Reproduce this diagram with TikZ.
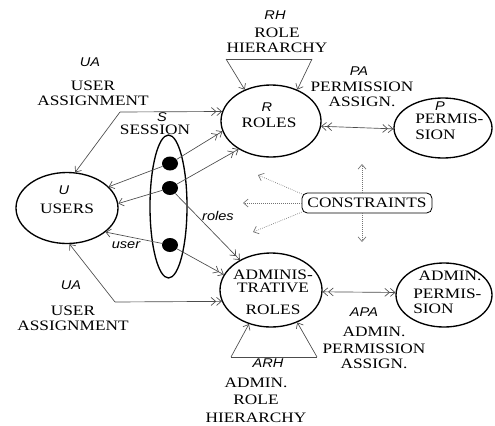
\documentclass[tikz,border=0pt]{standalone}
\usepackage{fontspec}
\setmainfont{Liberation Serif}[FakeStretch=1.2]
\setsansfont{Liberation Sans}[FakeStretch=1.15]
\usetikzlibrary{shapes.geometric,arrows.meta}

\tikzset{
  ring/.style={draw, ellipse, line width=1pt, inner sep=0pt},
  blob/.style={fill=black, ellipse, inner sep=0pt, minimum width=12pt, minimum height=10.5pt},
  txt/.style={inner sep=0pt, align=center, font=\fontsize{10.8}{11.25}\selectfont},
  ital/.style={inner sep=0pt, font=\fontsize{9.5}{11}\sffamily\itshape},
  rel/.style={draw=black!70, line width=0.5pt},
  dotrel/.style={draw=black!55, line width=0.5pt, densely dotted},
  >={Straight Barb[length=3.5pt,width=6pt]}
}

\begin{document}
\begin{tikzpicture}[x=0.75pt,y=0.75pt,yscale=-1,xscale=1]
        \useasboundingbox (0,0) rectangle (495,425);

        % the ellipses
        \draw (67,208) node (users) [ring, minimum width=76.5pt, minimum height=53.25pt] {};
        \draw (271,121) node (roles) [ring, minimum width=75pt, minimum height=54pt] {};
        \draw (443,128) node (perm) [ring, minimum width=73.5pt, minimum height=45pt] {};
        \draw (271,290) node (aroles) [ring, minimum width=76.5pt, minimum height=55.5pt] {};
        \draw (444,295) node (aperm) [ring, minimum width=72pt, minimum height=48pt] {};
        \draw (168.5,206.5) node (sess) [ring, minimum width=27.75pt, minimum height=107.25pt] {};
        \draw (170,163.5) node (d1) [blob] {};
        \draw (170,188) node (d2) [blob] {};
        \draw (170,245) node (d3) [blob] {};
        \draw (367,203) node (cons) [draw, rounded corners=4pt, line width=0.6pt, minimum width=97.5pt, minimum height=15pt, txt] {CONSTRAINTS};

        % free ends
        \coordinate (uaTop) at (120,112);
        \coordinate (uaBot) at (115,302);
        \coordinate (rhL) at (226,59);
        \coordinate (rhR) at (312,59);
        \coordinate (arhL) at (231,357);
        \coordinate (arhR) at (317,357);
        \coordinate (cR) at (258,175);
        \coordinate (cRl) at (243,203);
        \coordinate (cAr) at (253,232);
        \coordinate (cUp) at (362,164);
        \coordinate (cDn) at (362,242);

        % relations
        \draw [rel,->>] (uaTop) -- (roles.169);
        \draw [rel,->] (uaTop) -- (users.77);
        \draw [rel] (rhL) -- (rhR);
        \draw [rel,->] (rhL) -- (roles.130);
        \draw [rel,->] (rhR) -- (roles.50);
        \draw [rel,<<->>] (roles.-6) -- (perm.181);
        \draw [rel,->] (d1) -- (users.27);
        \draw [rel,->>] (d1) -- (roles.192);
        \draw [rel,->] (d2) -- (users.5);
        \draw [rel,->>] (d2) -- (roles.221);
        \draw [rel,->>] (d2) -- (aroles.136);
        \draw [rel,->>] (d3) -- (aroles.162);
        \draw [rel,->] (d3) -- (users.-32);
        \draw [rel,->] (uaBot) -- (users.-86);
        \draw [rel,->>] (uaBot) -- (aroles.193);
        \draw [rel] (arhL) -- (arhR);
        \draw [rel,->] (arhL) -- (aroles.237);
        \draw [rel,->] (arhR) -- (aroles.-51);
        \draw [rel,<<->>] (aroles.-2) -- (aperm.177);

        % constraints
        \draw [dotrel,->] (cons.172) -- (cR);
        \draw [dotrel,->] (cons.west) -- (cRl);
        \draw [dotrel,->] (cons.188) -- (cAr);
        \draw [dotrel,->] (cons.north -| cUp) -- (cUp);
        \draw [dotrel,->] (cons.south -| cDn) -- (cDn);

        % labels
        \draw (90,62) node (uaTopI) [ital] {UA};
        \draw (93,93) node (uaTopT) [txt] {USER\\ASSIGNMENT};
        \draw (275,15) node (rhI) [ital] {RH};
        \draw (277,40) node (rhT) [txt] {ROLE\\HIERARCHY};
        \draw (359,71) node (paI) [ital] {PA};
        \draw (362,94) node (paT) [txt] {PERMISSION\\ASSIGN.};
        \draw (162,117) node (sI) [ital] {S};
        \draw (155,130) node (sT) [txt] {SESSION};
        \draw (64,190) node (uI) [ital] {U};
        \draw (67,209) node (uT) [txt] {USERS};
        \draw (267,107) node (rI) [ital] {R};
        \draw (269,123) node (rT) [txt] {ROLES};
        \draw (440,106) node (pI) [ital] {P};
        \draw (415,127) node (pT) [txt, anchor=west, align=left] {PERMIS-\\[1pt]SION};
        \draw (218,216) node (rolesI) [ital] {roles};
        \draw (126,245) node (userI) [ital] {user};
        \draw (273,292) node (arT) [txt] {ADMINIS-\\[-1pt]TRATIVE\\[5pt]ROLES};
        \draw (413,292) node (apT) [txt, anchor=west, align=left] {\hspace{4pt}ADMIN.\\[2pt]PERMIS-\\SION};
        \draw (364,312) node (apaI) [ital] {APA};
        \draw (374,348) node (apaT) [txt] {ADMIN.\\[2pt]PERMISSION\\ASSIGN.};
        \draw (268,363) node (arhI) [ital] {ARH};
        \draw (256,400) node (arhT) [txt] {ADMIN.\\[2pt]ROLE\\[2pt]HIERARCHY};
        \draw (71,285) node (uaBotI) [ital] {UA};
        \draw (73,318) node (uaBotT) [txt] {USER\\ASSIGNMENT};
    \end{tikzpicture}
\end{document}
